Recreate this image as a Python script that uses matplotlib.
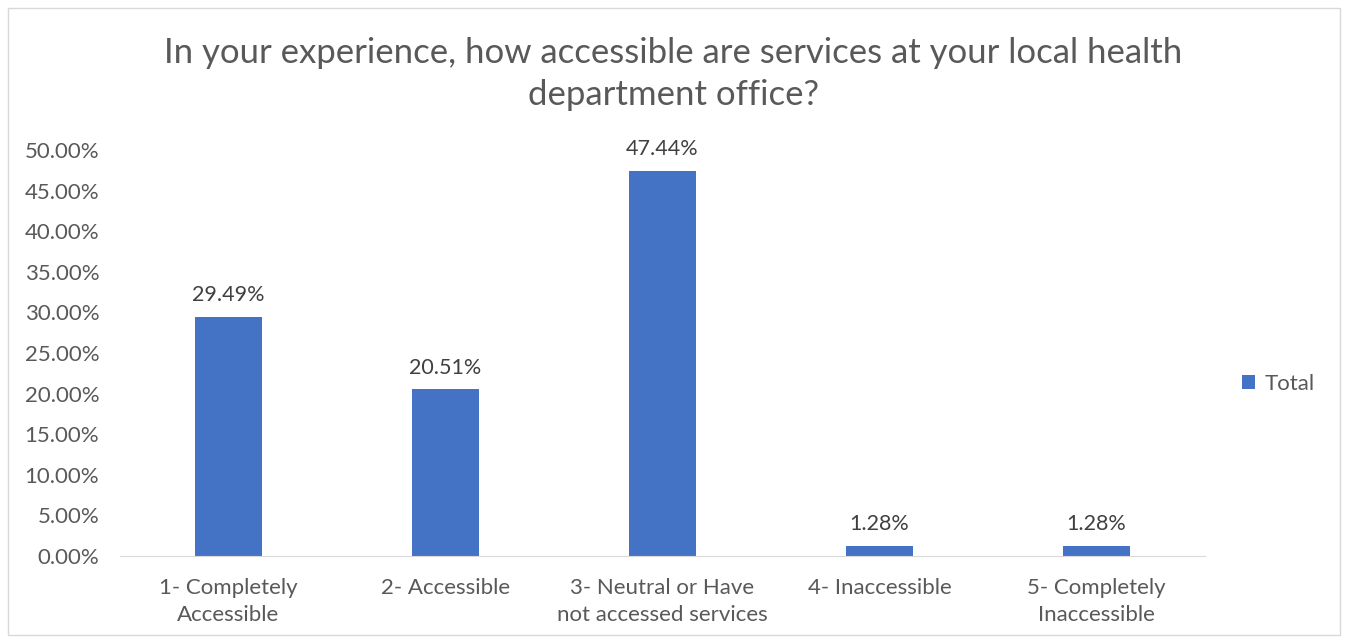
import matplotlib
matplotlib.use("Agg")
import matplotlib.pyplot as plt
from matplotlib.patches import Rectangle
from matplotlib.ticker import FuncFormatter

categories = ["1- Completely\nAccessible", "2- Accessible", "3- Neutral or Have\nnot accessed services",
              "4- Inaccessible", "5- Completely\nInaccessible"]
values = [29.49, 20.51, 47.44, 1.28, 1.28]
series_name = "Total"

plt.rcParams['font.family'] = ['Lato', 'DejaVu Sans']
text_color = "#595959"
bar_color = "#4472C4"

fig = plt.figure(figsize=(13.46, 6.43), dpi=100)
fig.patches.append(Rectangle((8/1346, 8/643), 1332/1346, 627/643, transform=fig.transFigure,
                             fill=False, edgecolor="#D9D9D9", linewidth=1))
ax = fig.add_axes([120/1346, 1-556/643, (1205-120)/1346, (556-150)/643])

x = range(len(categories))
bars = ax.bar(x, values, width=0.31, color=bar_color, label=series_name)
for xi, v in zip(x, values):
    ax.text(xi, v + 1.4, f"{v:.2f}%", ha="center", va="bottom", fontsize=15.5, color="#404040")

ax.set_xlim(-0.5, len(categories) - 0.5)
ax.set_ylim(0, 50)
ax.set_yticks([i * 5 for i in range(11)])
ax.yaxis.set_major_formatter(FuncFormatter(lambda v, p: f"{v:.2f}%"))
ax.set_xticks(list(x))
ax.set_xticklabels(categories, linespacing=1.45)
ax.tick_params(axis='both', length=0, labelsize=16, labelcolor=text_color)
ax.tick_params(axis='x', pad=16)
ax.tick_params(axis='y', pad=15)
for s in ["top", "right", "left"]:
    ax.spines[s].set_visible(False)
ax.spines["bottom"].set_color("#D9D9D9")

fig.text(0.5, 1-74/643, "In your experience, how accessible are services at your local health\ndepartment office?",
         ha="center", va="center", fontsize=25, color=text_color, linespacing=1.38)

ax.legend(loc="center left", bbox_to_anchor=(1222/1346, 1-384/643), bbox_transform=fig.transFigure,
          frameon=False, fontsize=16, handlelength=0.6, handleheight=0.6, handletextpad=0.4,
          labelcolor=text_color)

fig.savefig("out.png", dpi=100)
